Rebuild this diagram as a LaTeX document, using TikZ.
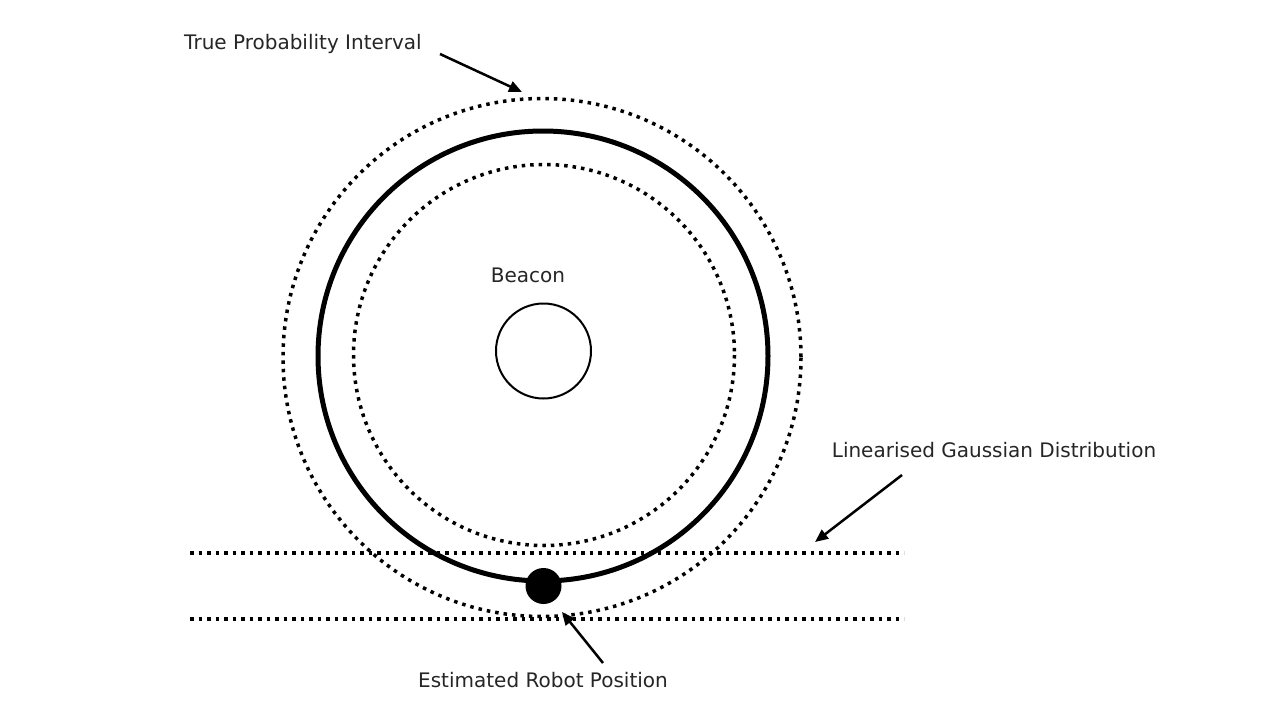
\documentclass[tikz,border=0pt]{standalone}
\usepackage{fontspec}
\setmainfont{DejaVu Sans}
\usetikzlibrary{arrows.meta}
\tikzset{
  lbl/.style={font=\fontsize{20}{23}\selectfont, inner sep=0pt, text=black!85},
  dotline/.style={line width=3.5pt, dash pattern=on 3.5pt off 5pt},
  ptr/.style={line width=2.5pt, -{Triangle[length=13pt,width=11pt]}},
}
\begin{document}
\begin{tikzpicture}[x=1pt,y=-1pt]
\useasboundingbox[fill=white] (0,0) rectangle (1278,723);
\coordinate (c) at (543,356);
\draw[dotline] (542,357.5) circle (259);
\draw[dotline] (544,355) circle (190.5);
\draw[line width=5pt] (c) circle (225);
\node[circle, draw, line width=2pt, minimum size=95pt, inner sep=0pt] (beacon) at (543.5,351) {};
\node[lbl] (beaconlbl) at (528,275) {Beacon};
\draw[dotline] (190,553) -- (904,553);
\draw[dotline] (190,619) -- (904,619);
\node[circle, fill=black, minimum size=36pt, inner sep=0pt] (robot) at (543.5,586) {};
\node[lbl] (tpi) at (303,44) {True Probability Interval};
\node[lbl] (lgd) at (994,450) {Linearised Gaussian Distribution};
\node[lbl] (erp) at (543,680) {Estimated Robot Position};
\coordinate (a1s) at (440,54);
\coordinate (a1e) at (522,92);
\coordinate (a2s) at (902,475);
\coordinate (a2e) at (815,542);
\coordinate (a3s) at (603,663);
\coordinate (a3e) at (562,612);
\draw[ptr] (a1s) -- (a1e);
\draw[ptr] (a2s) -- (a2e);
\draw[ptr] (a3s) -- (a3e);
\end{tikzpicture}
\end{document}
